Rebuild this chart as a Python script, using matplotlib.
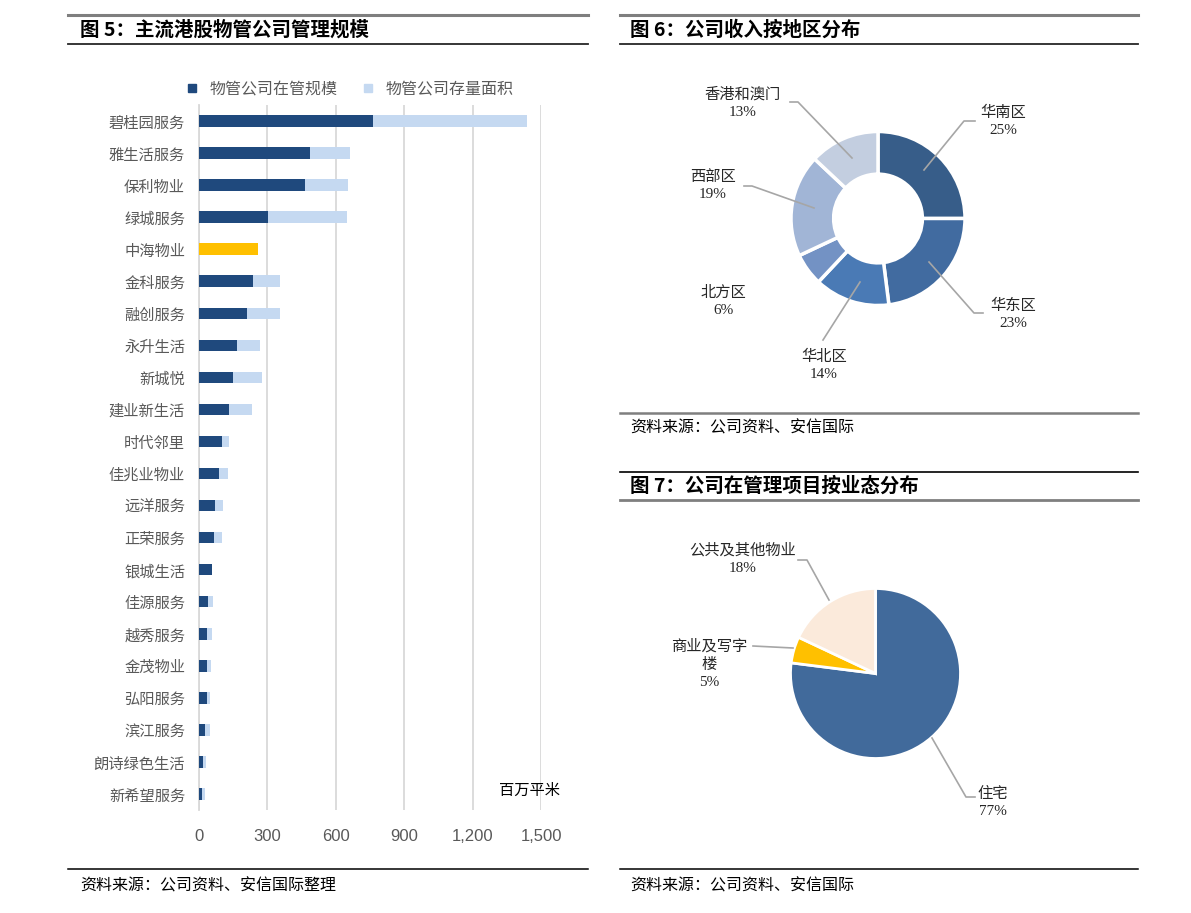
import matplotlib
matplotlib.use("Agg")
import matplotlib.pyplot as plt
from matplotlib.lines import Line2D
from matplotlib.ticker import FuncFormatter

plt.rcParams['font.family'] = ['Noto Sans CJK SC', 'DejaVu Sans']

# ---------------- data ----------------
companies = ["碧桂园服务", "雅生活服务", "保利物业", "绿城服务", "中海物业", "金科服务",
             "融创服务", "永升生活", "新城悦", "建业新生活", "时代邻里", "佳兆业物业",
             "远洋服务", "正荣服务", "银城生活", "佳源服务", "越秀服务", "金茂物业",
             "弘阳服务", "滨江服务", "朗诗绿色生活", "新希望服务"]
managed_area = [763, 486, 464, 302, 258, 235, 212, 168, 150, 133, 102, 88,
                70, 67, 55, 38, 35, 34, 34, 26, 19, 13]
stock_area = [675, 175, 189, 347, 0, 122, 142, 100, 126, 100, 28, 37,
              34, 34, 2, 22, 20, 20, 16, 21, 10, 12]
series_names = ["物管公司在管规模", "物管公司存量面积"]
x_ticks = [0, 300, 600, 900, 1200, 1500]

region_labels = ["华南区", "华东区", "华北区", "北方区", "西部区", "香港和澳门"]
region_share = [25, 23, 14, 6, 19, 13]

segment_labels = ["住宅", "商业及写字\n楼", "公共及其他物业"]
segment_share = [77, 5, 18]

# ---------------- layout helpers ----------------
W, H = 1191, 913
fig = plt.figure(figsize=(W / 100, H / 100), dpi=100)
fig.patch.set_facecolor("white")

def fx(x):
    return x / W

def fy(y):
    return 1 - y / H

def hline(x0, x1, y, color, lw):
    fig.add_artist(Line2D([fx(x0), fx(x1)], [fy(y), fy(y)], color=color, lw=lw,
                          transform=fig.transFigure))

def poly(pts, color="#a6a6a6", lw=1.2):
    fig.add_artist(Line2D([fx(p[0]) for p in pts], [fy(p[1]) for p in pts],
                          color=color, lw=lw, transform=fig.transFigure))

def ftext(x, y, s, **kw):
    fig.text(fx(x), fy(y), s, **kw)

# ---------------- frame lines & titles ----------------
for (x0, x1) in [(68, 588), (620, 1138)]:
    hline(x0, x1, 15, "#7f7f7f", 2.2)
    hline(x0, x1, 44, "#262626", 1.3)
    hline(x0, x1, 869, "#000000", 1.1)
hline(620, 1138, 413, "#7f7f7f", 1.8)
hline(620, 1138, 472, "#000000", 1.2)
hline(620, 1138, 500, "#7f7f7f", 2.0)

title_kw = dict(fontsize=14, fontweight="bold", va="center", ha="left", color="black")
ftext(80, 30, "图 5：主流港股物管公司管理规模", **title_kw)
ftext(630, 30, "图 6：公司收入按地区分布", **title_kw)
ftext(630, 486, "图 7：公司在管理项目按业态分布", **title_kw)

src_kw = dict(fontsize=11.5, va="center", ha="left", color="black")
ftext(80, 886, "资料来源：公司资料、安信国际整理", **src_kw)
ftext(630, 428, "资料来源：公司资料、安信国际", **src_kw)
ftext(630, 886, "资料来源：公司资料、安信国际", **src_kw)

# ---------------- bar chart ----------------
ax = fig.add_axes([fx(199), fy(810), (541 - 199) / W, (810 - 105) / H])
ypos = list(range(len(companies)))
dark_colors = ["#FFC000" if c == "中海物业" else "#1F497D" for c in companies]
ax.barh(ypos, managed_area, height=0.36, color=dark_colors, zorder=3)
ax.barh(ypos, stock_area, left=managed_area, height=0.36, color="#C5D9F1", zorder=3)
ax.set_ylim(len(companies) - 0.5, -0.5)
ax.set_xlim(0, 1500)
ax.set_xticks(x_ticks)
ax.xaxis.set_major_formatter(FuncFormatter(lambda v, p: f"{int(v):,}"))
ax.set_yticks(ypos)
ax.set_yticklabels(companies, fontsize=11, color="#595959")
for lab in ax.get_xticklabels():
    lab.set_fontfamily(["Liberation Sans", "DejaVu Sans"])
    lab.set_fontsize(12)
    lab.set_color("#595959")
ax.tick_params(axis="both", length=0)
ax.tick_params(axis="x", pad=14)
ax.tick_params(axis="y", pad=10)
ax.grid(axis="x", color="#d9d9d9", lw=1.3, zorder=0)
for s in ["top", "right", "bottom"]:
    ax.spines[s].set_visible(False)
ax.spines["left"].set_color("#d9d9d9")
ax.spines["left"].set_linewidth(1.3)
ftext(530, 790, "百万平米", fontsize=11, ha="center", va="center", color="black")

handles = [Line2D([], [], marker="s", ls="", color="#1F497D", markersize=6),
           Line2D([], [], marker="s", ls="", color="#C5D9F1", markersize=6)]
fig.legend(handles, series_names, loc="center", bbox_to_anchor=(fx(350), fy(89)),
           ncol=2, frameon=False, fontsize=11.5, labelcolor="#595959",
           handlelength=0.8, handletextpad=0.7, columnspacing=1.5)

lab_kw = dict(fontsize=11, ha="center", va="center", color="#262626",
              family=["Liberation Serif", "Noto Sans CJK SC"], linespacing=1.4)

# ---------------- donut ----------------
cx, cy, R = 878, 218.5, 87
axd = fig.add_axes([fx(cx - R), fy(cy + R), 2 * R / W, 2 * R / H])
donut_colors = ["#375D89", "#416BA0", "#4A7AB5", "#7392C4", "#A1B5D6", "#C3CEE0"]
axd.pie(region_share, colors=donut_colors, startangle=90, counterclock=False, radius=1,
        wedgeprops=dict(width=0.49, edgecolor="white", linewidth=2.5))
axd.set_xlim(-1, 1)
axd.set_ylim(-1, 1)
axd.set_aspect("equal")
axd.axis("off")

donut_pos = {"华南区": (1003, 121), "华东区": (1013, 314), "华北区": (824, 365),
             "北方区": (723, 301), "西部区": (713, 186), "香港和澳门": (743, 103)}
for name, share in zip(region_labels, region_share):
    x, y = donut_pos[name]
    ftext(x, y, f"{name}\n{share}%", **lab_kw)
poly([(924, 170), (964, 121), (975, 121)])
poly([(929, 262), (974, 313), (983, 313)])
poly([(860, 282), (823, 340)])
poly([(814, 208), (752, 186), (744, 186)])
poly([(852, 158), (798, 102), (790, 102)])

# ---------------- pie ----------------
pcx, pcy, PR = 875.5, 673.5, 85
axp = fig.add_axes([fx(pcx - PR), fy(pcy + PR), 2 * PR / W, 2 * PR / H])
pie_colors = ["#416A9B", "#FFC000", "#FBEADB"]
axp.pie(segment_share, colors=pie_colors, startangle=90, counterclock=False, radius=1,
        wedgeprops=dict(edgecolor="white", linewidth=2))
axp.set_xlim(-1, 1)
axp.set_ylim(-1, 1)
axp.set_aspect("equal")
axp.axis("off")

pie_pos = {"住宅": (993, 802), "商业及写字\n楼": (709, 664), "公共及其他物业": (743, 559)}
for name, share in zip(segment_labels, segment_share):
    x, y = pie_pos[name]
    ftext(x, y, f"{name}\n{share}%", **lab_kw)
poly([(829, 600), (807, 560), (798, 560)])
poly([(793, 648), (753, 646)])
poly([(932, 738), (966, 797), (975, 797)])

fig.savefig("out.png", dpi=100, facecolor="white")
